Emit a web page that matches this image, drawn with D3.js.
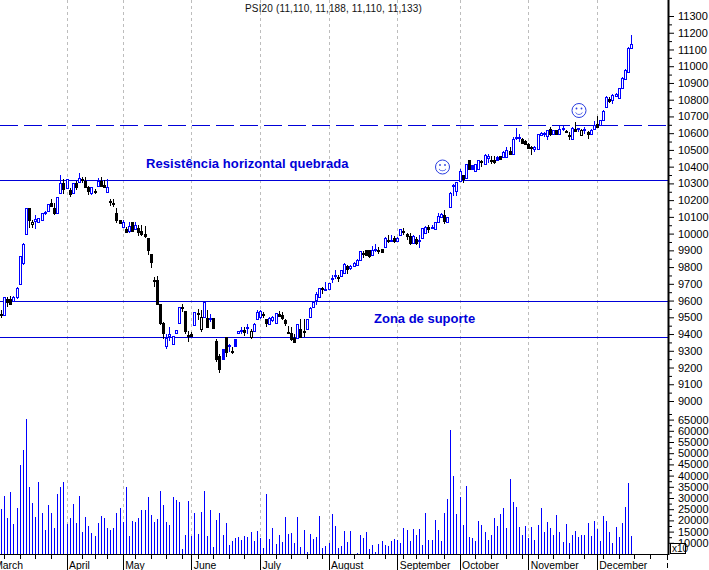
<!DOCTYPE html>
<html>
<head>
<meta charset="utf-8">
<script src="https://cdn.jsdelivr.net/npm/d3@7"></script>
<style>
html, body { margin: 0; padding: 0; background: #fff; }
svg { display: block; }
text { font-family: "Liberation Sans", Arial, sans-serif; }
</style>
</head>
<body>
<div id="chart"></div>
<script>
var svgWidth = 709;
var svgHeight = 570;

// daily candles
var opens = [9517,9515,9611,9611,9597,9621,9701,9827,9995,10155,
10055,10077,10071,10081,10121,10135,10181,10151,10121,10245,
10301,10271,10261,10245,10305,10311,10325,10315,10277,10245,
10255,10287,10315,10291,10247,10193,10181,10121,10081,10037,
10027,10015,10067,10027,10031,10015,9995,9971,9881,9725,
9725,9577,9467,9327,9391,9341,9405,9465,9561,9535,
9397,9401,9455,9527,9431,9501,9495,9489,9495,9361,
9271,9311,9381,9327,9297,9371,9405,9421,9425,9437,
9381,9417,9491,9501,9519,9487,9461,9481,9465,9521,
9515,9481,9413,9407,9375,9375,9431,9421,9431,9501,
9561,9601,9621,9677,9661,9671,9727,9749,9743,9745,
9765,9807,9797,9805,9811,9841,9883,9901,9901,9873,
9905,9903,9907,9921,9963,9959,9975,9957,9991,10017,
9995,9987,9945,9967,9959,9975,10001,10037,10031,10025,
10067,10101,10111,10067,10157,10283,10257,10313,10351,10333,
10437,10407,10373,10387,10431,10417,10453,10441,10437,10457,
10461,10457,10457,10491,10477,10569,10575,10567,10551,10537,
10515,10507,10507,10587,10593,10583,10627,10597,10617,10597,
10625,10615,10591,10567,10627,10625,10587,10621,10605,10597,
10627,10657,10647,10677,10757,10807,10801,10821,10813,10867,
10921,10967,11110];

var highs = [9545,9621,9621,9625,9625,9681,9869,9945,10155,10155,
10081,10111,10095,10121,10137,10175,10205,10181,10221,10351,
10325,10325,10271,10301,10315,10361,10341,10337,10285,10281,
10265,10331,10337,10321,10325,10205,10205,10151,10081,10081,
10041,10071,10071,10071,10051,10051,10045,9971,9881,9741,
9745,9581,9471,9401,9441,9391,9425,9561,9581,9535,
9421,9411,9531,9551,9541,9593,9545,9517,9495,9371,
9281,9311,9381,9341,9321,9371,9421,9445,9441,9461,
9431,9465,9541,9541,9531,9491,9501,9507,9527,9535,
9531,9487,9451,9441,9401,9461,9491,9487,9491,9561,
9597,9651,9675,9681,9711,9707,9751,9781,9751,9785,
9825,9811,9815,9831,9851,9899,9895,9905,9905,9925,
9937,9921,9911,9981,9991,9991,9987,9981,10029,10035,
10001,10001,9989,9981,9991,10035,10045,10051,10051,10071,
10121,10121,10141,10101,10247,10297,10311,10383,10351,10417,
10441,10411,10417,10441,10437,10473,10477,10461,10461,10461,
10465,10491,10517,10517,10577,10633,10597,10571,10557,10541,
10521,10521,10597,10607,10607,10621,10637,10621,10621,10641,
10641,10621,10607,10637,10667,10633,10627,10637,10613,10625,
10671,10701,10681,10741,10821,10817,10833,10841,10871,10933,
10981,11117,11188];

var lows = [9495,9515,9561,9577,9589,9611,9701,9811,9995,10031,
10031,10025,10065,10077,10111,10131,10161,10111,10121,10241,
10237,10271,10221,10237,10261,10301,10301,10271,10231,10231,
10237,10281,10277,10271,10245,10167,10157,10061,10055,10031,
10001,10005,10011,10021,9985,9985,9971,9871,9795,9681,
9577,9457,9371,9311,9361,9341,9401,9465,9531,9401,
9351,9381,9455,9481,9411,9501,9441,9471,9435,9231,
9167,9251,9261,9291,9281,9327,9405,9401,9391,9401,
9371,9411,9481,9491,9497,9445,9455,9471,9465,9501,
9481,9451,9401,9361,9351,9375,9375,9381,9431,9497,
9555,9571,9621,9641,9657,9671,9705,9731,9711,9741,
9761,9757,9781,9801,9807,9837,9857,9865,9857,9865,
9891,9881,9887,9915,9941,9947,9945,9953,9987,9991,
9961,9931,9941,9931,9917,9971,9997,10005,10025,10021,
10061,10095,10057,10065,10155,10227,10227,10307,10301,10327,
10383,10383,10367,10383,10397,10413,10421,10417,10413,10437,
10443,10453,10453,10473,10473,10557,10547,10539,10533,10507,
10467,10487,10503,10583,10577,10557,10581,10593,10593,10593,
10611,10607,10557,10563,10607,10607,10581,10597,10567,10593,
10623,10637,10643,10673,10753,10781,10777,10817,10809,10863,
10917,10961,11110];

var closes = [9513,9621,9591,9581,9621,9677,9869,9937,10151,10081,
10071,10085,10095,10121,10131,10175,10167,10121,10221,10301,
10265,10325,10237,10301,10277,10331,10321,10277,10257,10277,
10247,10315,10285,10281,10277,10187,10175,10081,10061,10067,
10011,10045,10017,10051,10011,9995,9987,9901,9831,9717,
9581,9467,9407,9375,9401,9391,9425,9561,9555,9421,
9393,9387,9531,9523,9501,9593,9441,9493,9435,9251,
9191,9251,9291,9333,9293,9327,9421,9427,9415,9443,
9421,9461,9531,9537,9515,9465,9497,9501,9527,9509,
9495,9465,9409,9371,9355,9461,9381,9415,9491,9555,
9591,9641,9675,9671,9671,9707,9733,9753,9739,9781,
9821,9791,9805,9827,9845,9895,9879,9871,9865,9905,
9909,9899,9891,9975,9959,9963,9955,9975,10025,10013,
9987,9945,9985,9941,9963,10031,10041,10027,10041,10071,
10107,10115,10077,10097,10243,10291,10307,10377,10327,10413,
10387,10387,10413,10437,10427,10467,10461,10433,10427,10441,
10447,10487,10501,10477,10567,10575,10579,10543,10537,10513,
10509,10517,10593,10601,10603,10617,10597,10617,10597,10627,
10629,10611,10583,10633,10613,10629,10621,10627,10597,10621,
10647,10637,10677,10733,10817,10791,10827,10837,10867,10927,
10977,11111,11133];

// 1 = closed above the previous day (blue), 0 = below (black)
var closeUp = [0,1,0,0,1,1,1,1,1,0,
0,1,1,1,1,1,0,0,1,1,
0,1,0,1,0,1,0,0,0,1,
0,1,0,0,1,0,0,0,0,1,
0,1,0,1,0,0,0,0,0,0,
0,0,0,1,1,1,1,1,0,0,
0,0,1,0,0,1,0,1,0,0,
0,1,0,1,0,1,1,1,0,1,
0,1,1,1,0,0,1,1,1,0,
0,0,0,0,0,1,0,0,1,1,
1,1,1,0,1,1,1,1,0,1,
1,0,1,1,1,1,0,0,0,1,
1,0,0,1,0,1,0,1,1,0,
0,0,1,0,1,1,1,0,1,1,
1,1,0,1,1,1,1,1,0,1,
0,1,1,1,0,1,1,0,0,1,
0,1,1,0,1,1,1,0,0,0,
0,1,1,1,1,1,0,1,0,1,
1,0,0,1,0,1,0,1,0,1,
1,0,1,1,1,0,1,1,1,1,
1,1,1];

var volumes = [25200,31000,21200,32800,18500,25700,44900,51600,65400,35100,
27900,21700,37300,23500,15900,27000,23500,16800,31900,35100,
37300,18500,21200,27500,19000,31000,15000,21700,17600,14500,
13200,19000,22100,21200,16800,15900,16800,23500,25700,19400,
35100,13200,19900,19400,21200,24800,24800,30600,22600,19400,
20800,33300,27000,19400,18100,30600,29300,28400,7400,13600,
28800,13200,23500,14100,23900,33300,13200,24800,8300,20300,
23500,13600,19000,9200,11000,12300,12700,
11400,13200,12700,15000,11000,15400,12300,7800,31900,11800,
16800,9600,13600,10500,21700,14100,14500,10100,21700,8300,
15900,6000,14100,11800,12700,22100,7800,8700,10100,23000,
17600,7800,8700,15400,10500,15400,5000,5400,13600,12300,
15000,7400,9200,6000,9600,11000,9200,8700,11000,11800,
11400,10100,16800,15900,11000,16300,13600,16300,9200,23500,
11400,11400,20300,15900,11000,23500,29700,60500,40000,23000,
30600,18100,35500,12700,12300,11000,19900,18100,15000,11400,
13600,21200,17600,23000,25700,16800,38600,28400,26100,17200,
13600,17600,12300,17200,11400,18100,25700,15000,19400,16800,
13600,22600,15000,10500,18500,10100,13600,15400,12700,13600,
13600,19000,13200,19900,16300,11000,22100,19900,15000,10100,
17200,12700,19000,26100,36800,13200];

// first trading day of each month
var monthNames = ["March", "April", "May", "June", "July", "August", "September", "October", "November", "December"];
var monthStarts = [-3, 21, 39, 61, 83, 105, 127, 147, 169, 191];

// short ticks under the volume panel
var weekTicks = [1,6,11,16,26,30,34,43,48,53,58,63,68,73,78,88,93,98,103,108,113,118,123,129,133,137,142,152,157,162,167,172,177,182,187,193,198,203,208];

var priceTicks = d3.range(9000, 11301, 100);
var volumeTicks = d3.range(10000, 65001, 5000);

var resistanceLevel = 10320;
var brokenLevel = 10650;
var supportLevels = [9600, 9380];

var blue = "#0000ff";
var lineBlue = "#0000d8";

var svg = d3.select("#chart")
    .append("svg")
    .attr("width", svgWidth)
    .attr("height", svgHeight);

// Scales
var axisX = 668;
var x = d3.scaleLinear().domain([0, 213.8]).range([1, axisX]);
var priceY = d3.scaleLinear().domain([9000, 11300]).range([401, 16]);
var volumeY = d3.scaleLinear().domain([5000, 65000]).range([554, 419.6]);

function px(i) { return Math.round(x(i)); }

// Month grid
svg.append("g").selectAll("line")
    .data(monthStarts.filter(d => d >= 0))
    .enter()
    .append("line")
    .attr("x1", d => px(d) + 0.5)
    .attr("x2", d => px(d) + 0.5)
    .attr("y1", 0)
    .attr("y2", 554)
    .attr("stroke", "#bdbdbd")
    .attr("stroke-dasharray", "3,3");

// Level lines
svg.append("g").selectAll("line")
    .data([resistanceLevel].concat(supportLevels))
    .enter()
    .append("line")
    .attr("x1", 0)
    .attr("x2", axisX)
    .attr("y1", d => Math.round(priceY(d)) + 0.5)
    .attr("y2", d => Math.round(priceY(d)) + 0.5)
    .attr("stroke", lineBlue);

svg.append("line")
    .attr("x1", 0)
    .attr("x2", axisX)
    .attr("y1", Math.round(priceY(brokenLevel)) + 0.5)
    .attr("y2", Math.round(priceY(brokenLevel)) + 0.5)
    .attr("stroke", lineBlue)
    .attr("stroke-dasharray", "18,6");

// Candles
var candles = svg.append("g").selectAll("g")
    .data(d3.range(opens.length))
    .enter()
    .append("g")
    .attr("stroke", i => closeUp[i] ? blue : "#000");

candles.append("line")
    .attr("x1", i => px(i) + 0.5)
    .attr("x2", i => px(i) + 0.5)
    .attr("y1", i => Math.round(priceY(highs[i])))
    .attr("y2", i => Math.round(priceY(lows[i])));

candles.append("rect")
    .attr("x", i => px(i) - 0.5)
    .attr("width", 2)
    .attr("y", i => Math.round(priceY(Math.max(opens[i], closes[i]))) + 0.5)
    .attr("height", i => Math.max(1, Math.round(priceY(Math.min(opens[i], closes[i]))) - Math.round(priceY(Math.max(opens[i], closes[i])))))
    .attr("fill", function (i) {
        if (closes[i] > opens[i]) return "#fff";
        return closeUp[i] ? blue : "#000";
    });

// Volume
svg.append("g").selectAll("line")
    .data(volumes)
    .enter()
    .append("line")
    .attr("x1", (d, i) => px(i) + 0.5)
    .attr("x2", (d, i) => px(i) + 0.5)
    .attr("y1", d => Math.round(volumeY(d)))
    .attr("y2", 554)
    .attr("stroke", blue);

// Right axis
svg.append("line")
    .attr("x1", axisX + 0.5)
    .attr("x2", axisX + 0.5)
    .attr("y1", 0)
    .attr("y2", 555)
    .attr("stroke", "#000")
    .attr("stroke-width", 2);

svg.append("line")
    .attr("x1", axisX - 0.5)
    .attr("x2", axisX - 0.5)
    .attr("y1", 555)
    .attr("y2", 570)
    .attr("stroke", "#000")
    .attr("stroke-dasharray", "5,3");

function rightAxis(scale, values, size, labels) {
    var g = svg.append("g")
        .attr("transform", `translate(${axisX + 1}, 0)`)
        .call(d3.axisRight(scale)
            .tickValues(values)
            .tickSize(size)
            .tickPadding(9 - size)
            .tickFormat(labels ? d3.format("d") : ""));
    g.select(".domain").remove();
    g.selectAll("text")
        .attr("font-family", "'Liberation Sans', Arial, sans-serif")
        .attr("font-size", 11)
        .attr("fill", "#000");
    return g;
}

rightAxis(priceY, priceTicks, 5, true);
rightAxis(priceY, priceTicks.map(d => d + 50).filter(d => d < 11350), 3, false);
rightAxis(volumeY, volumeTicks, 5, true);
rightAxis(volumeY, volumeTicks.map(d => d + 2500), 3, false);

// Bottom axis
svg.append("line")
    .attr("x1", 0)
    .attr("x2", axisX + 1)
    .attr("y1", 554.5)
    .attr("y2", 554.5)
    .attr("stroke", "#000");

svg.append("g").selectAll("line")
    .data(weekTicks)
    .enter()
    .append("line")
    .attr("x1", d => px(d) + 0.5)
    .attr("x2", d => px(d) + 0.5)
    .attr("y1", 555)
    .attr("y2", 559)
    .attr("stroke", "#000");

svg.append("g").selectAll("line")
    .data(monthStarts.filter(d => d >= 0))
    .enter()
    .append("line")
    .attr("x1", d => px(d) + 0.5)
    .attr("x2", d => px(d) + 0.5)
    .attr("y1", 555)
    .attr("y2", 570)
    .attr("stroke", "#000");

svg.append("g").selectAll("text")
    .data(monthNames)
    .enter()
    .append("text")
    .attr("x", (d, i) => x(monthStarts[i]) + 2.5)
    .attr("y", 569)
    .attr("font-size", 10.4)
    .attr("fill", "#000")
    .text(d => d);

// x10 box on the volume axis
svg.append("rect")
    .attr("x", 670.5)
    .attr("y", 543.5)
    .attr("width", 15)
    .attr("height", 10)
    .attr("fill", "#fff")
    .attr("stroke", "#000");

svg.append("text")
    .attr("x", 672)
    .attr("y", 552)
    .attr("font-size", 10)
    .attr("fill", "#000")
    .text("x10");

// Title and notes
svg.append("text")
    .attr("x", 333.5)
    .attr("y", 12)
    .attr("text-anchor", "middle")
    .attr("font-size", 10)
    .attr("letter-spacing", 0.15)
    .attr("fill", "#111")
    .text("PSI20 (11,110, 11,188, 11,110, 11,133)");

svg.append("text")
    .attr("x", 146)
    .attr("y", 168)
    .attr("font-size", 13)
    .attr("font-weight", "bold")
    .attr("letter-spacing", 0.08)
    .attr("fill", lineBlue)
    .text("Resistência horizontal quebrada");

svg.append("text")
    .attr("x", 374)
    .attr("y", 323)
    .attr("font-size", 13)
    .attr("font-weight", "bold")
    .attr("fill", lineBlue)
    .text("Zona de suporte");

// Smileys
var smile = d3.arc().innerRadius(3.6).outerRadius(4.2).startAngle(Math.PI * 0.65).endAngle(Math.PI * 1.35);

var smileys = svg.append("g").selectAll("g")
    .data([[442.5, 167], [579, 110.5]])
    .enter()
    .append("g")
    .attr("transform", d => `translate(${d[0]}, ${d[1]})`);

smileys.append("circle")
    .attr("r", 7)
    .attr("fill", "#fff")
    .attr("stroke", "#2a3ee0");

smileys.append("circle").attr("cx", -2.5).attr("cy", -2).attr("r", 0.9).attr("fill", "#2a3ee0");
smileys.append("circle").attr("cx", 2.5).attr("cy", -2).attr("r", 0.9).attr("fill", "#2a3ee0");
smileys.append("path").attr("d", smile).attr("fill", "#2a3ee0");
</script>
</body>
</html>
